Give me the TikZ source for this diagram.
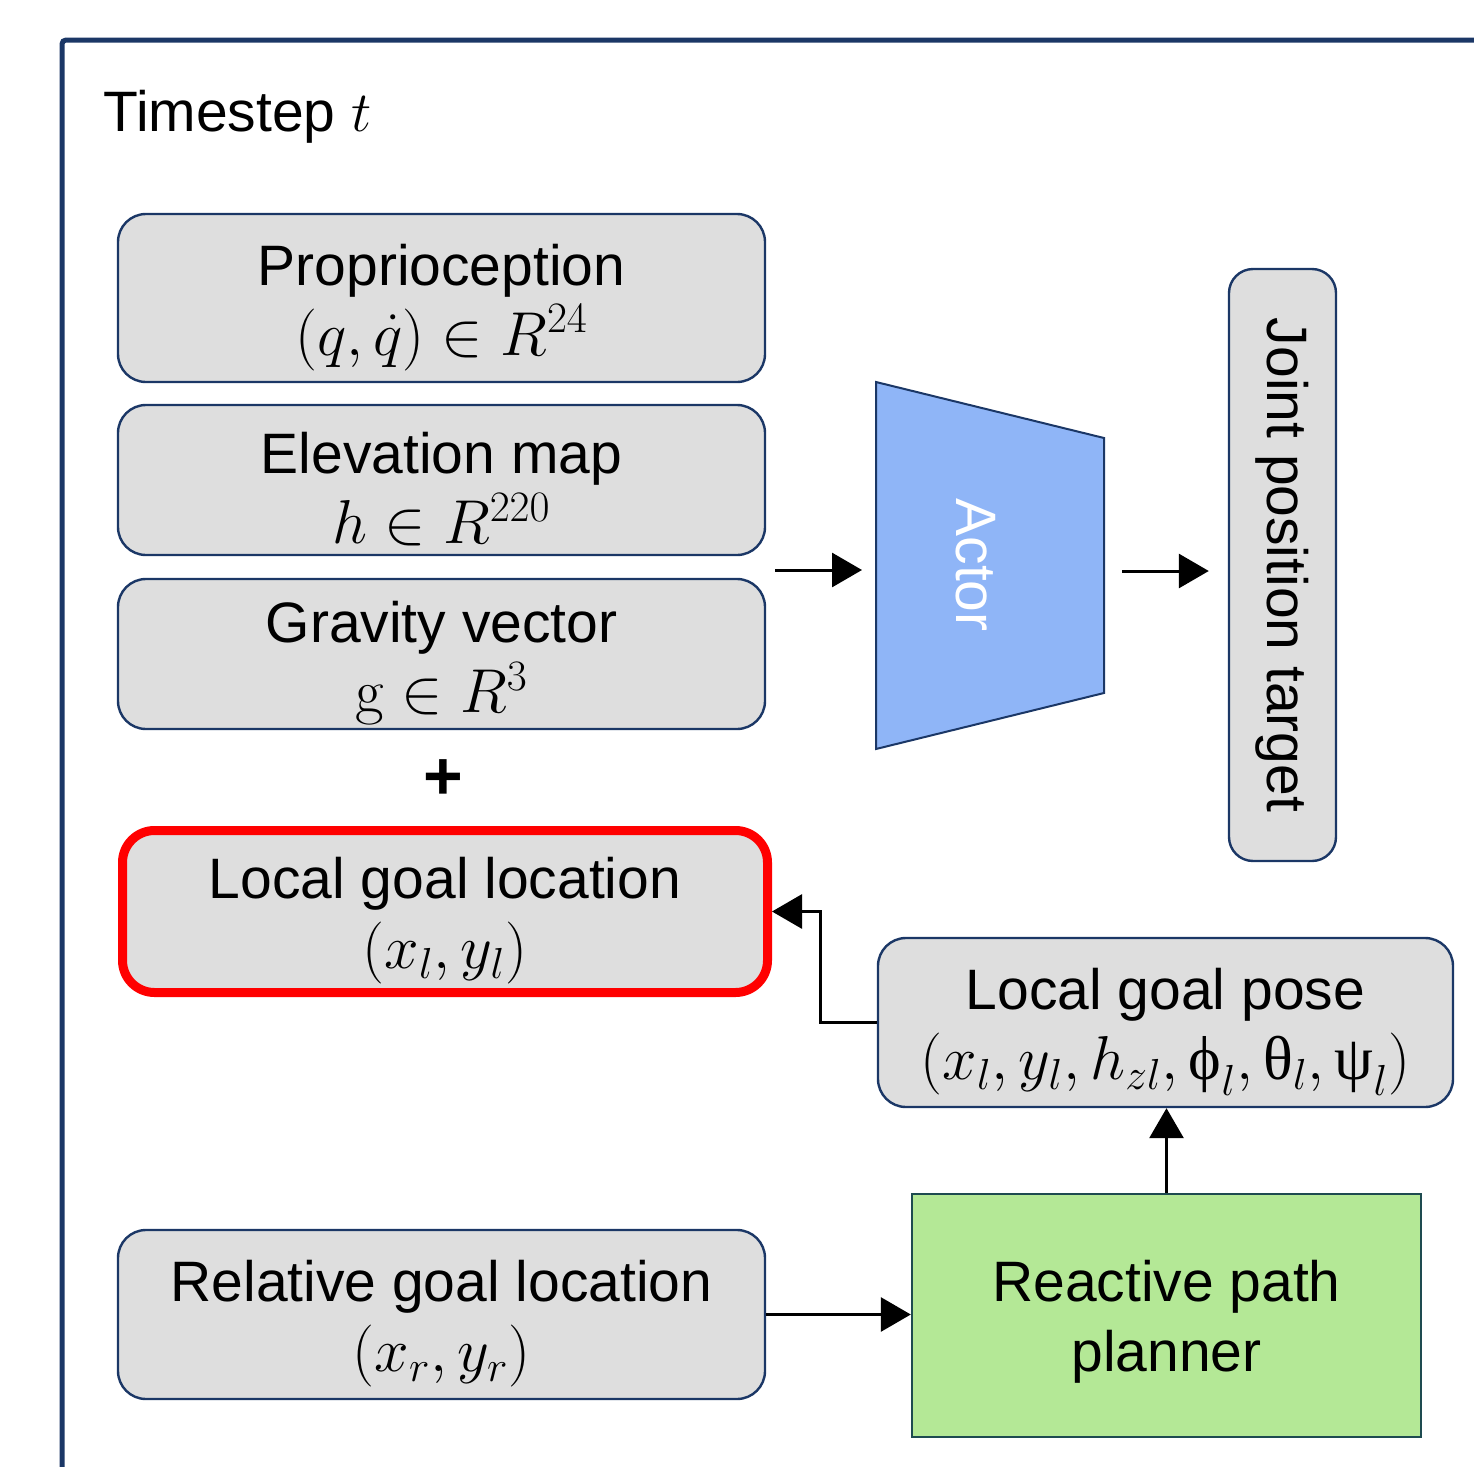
\RequirePackage{fix-cm}
\documentclass[tikz,border=0pt]{standalone}
\usepackage[no-math]{fontspec}
\setmainfont{Liberation Sans}
\newfontfamily\grk{Liberation Serif}
\usetikzlibrary{arrows.meta}
\definecolor{navy}{HTML}{1B3766}
\definecolor{boxgray}{HTML}{DEDEDE}
\definecolor{actorblue}{HTML}{8FB5F7}
\definecolor{plangreen}{HTML}{B4E896}
\definecolor{planedge}{HTML}{1E4B50}
\newcommand\mth[1]{{\fontsize{31}{35}\selectfont$#1$}}
\newcommand\tstrut{\rule{0pt}{30pt}}
\begin{document}
\begin{tikzpicture}[x=0.5pt,y=-0.5pt,
  every node/.style={font=\fontsize{28.5}{35}\selectfont},
  inbox/.style={draw=navy, line width=1.2pt, fill=boxgray, rounded corners=14pt,
    align=center, inner sep=0pt, minimum width=323.5pt},
  arr/.style={line width=1.5pt, -{Triangle[length=15pt,width=17pt]}}]
\useasboundingbox (0,0) rectangle (1474,1467);
\clip (0,0) rectangle (1474,1467);
% frame
\draw[navy, line width=2.5pt, rounded corners=2pt] (62,1600) -- (62,40) -- (1600,40);
\node[anchor=base west, inner sep=0pt] (title) at (103,131) {Timestep $t$};
% input boxes
\node[inbox, minimum height=84pt] (prop) at (441.5,298) {\tstrut Proprioception\\\mth{(q,\dot q)\in R^{24}}};
\node[inbox, minimum height=75pt] (elev) at (441.5,480) {\tstrut Elevation map\\\mth{h\in R^{220}}};
\node[inbox, minimum height=75pt] (grav) at (441.5,654) {\tstrut Gravity vector\\\mth{\mathrm{g}\in R^{3}}};
\node[font=\fontsize{34}{35}\selectfont\bfseries] (plus) at (443,780) {+};
\node[inbox, draw=red, line width=4.5pt, minimum width=322.5pt, minimum height=81pt, rounded corners=16pt] (lgl) at (445,911.5) {\tstrut Local goal location\\\mth{(x_l,y_l)}};
\node[inbox, minimum height=84.5pt] (rel) at (441.5,1314.5) {\tstrut Relative goal location\\\mth{(x_r,y_r)}};
% actor
\draw[navy, line width=1pt, fill=actorblue] (876,382) -- (1104,438) -- (1104,693) -- (876,749) -- cycle;
\node[text=white, rotate=-90] (actor) at (976,565) {Actor};
\coordinate (actorW) at (876,570);
\coordinate (actorE) at (1104,571);
\coordinate (inS) at (775,570);
% joint target
\node[inbox, rotate=-90, minimum width=296pt, minimum height=53.5pt, rounded corners=12pt] (joint) at (1282.5,565) {Joint position target};
% local goal pose and planner
\node[inbox, minimum width=287.5pt, minimum height=84.5pt] (lgp) at (1165.5,1022.5) {\tstrut Local goal pose\\\mth{(x_l,y_l,h_{zl},\mbox{\grk ϕ}_l,\mbox{\grk θ}_l,\mbox{\grk ψ}_l)}};
\node[draw=planedge, line width=1.2pt, fill=plangreen, minimum width=254.5pt, minimum height=121.5pt, align=center, inner sep=0pt] (rpp) at (1166.5,1315.5) {\rule{0pt}{27pt}Reactive path\\planner};
% connectors
\draw[arr, shorten >=7pt] (inS) -- (actorW);
\draw[arr, shorten <=9pt, shorten >=9.5pt] (actorE) -- (actorE -| joint.south);
\draw[arr] (lgp.west) -- ++(-56,0) |- (lgl.east);
\draw[arr] (rpp.north) -- (rpp.north |- lgp.south);
\draw[arr] (rel.east) -- (rel.east -| rpp.west);
\end{tikzpicture}
\end{document}
